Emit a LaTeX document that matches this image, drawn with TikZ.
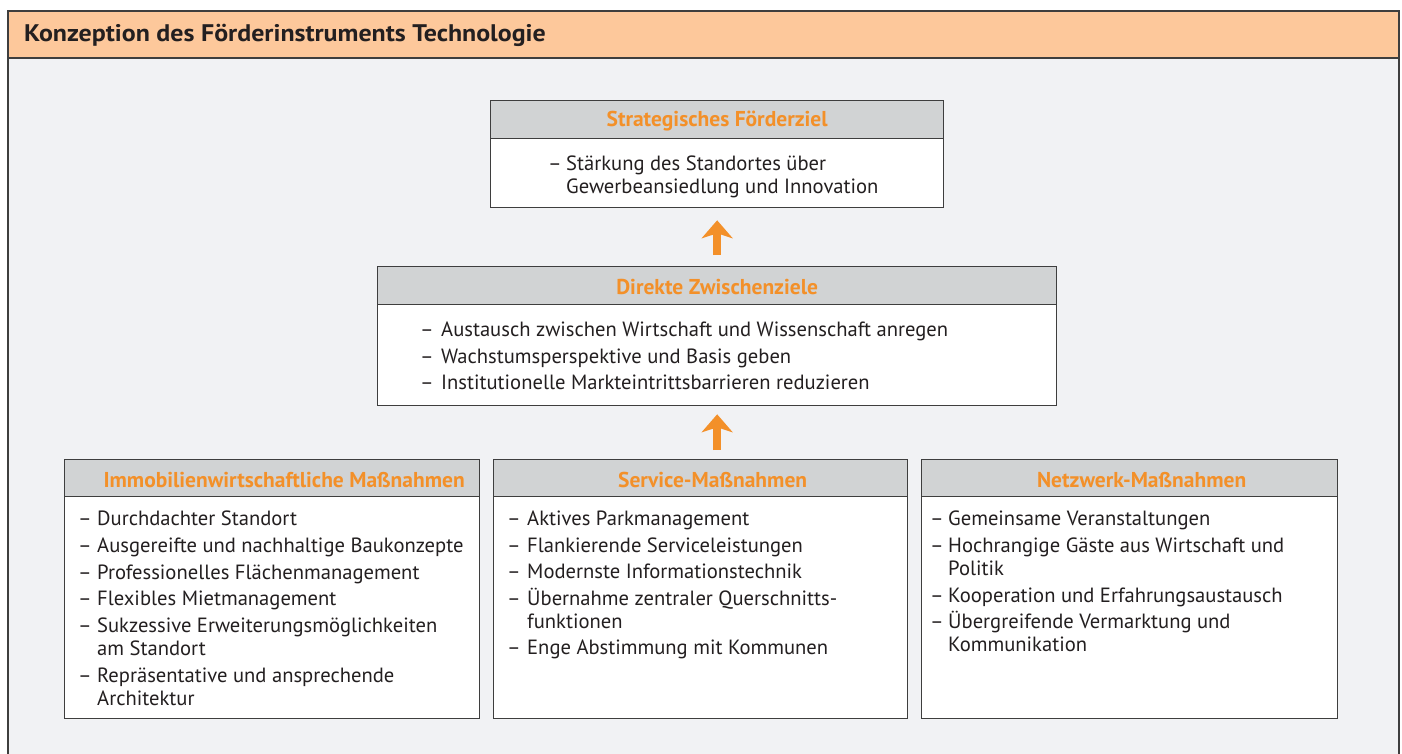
\documentclass[tikz,border=0pt]{standalone}
\usepackage{fontspec}
\setmainfont{PT Sans}
\newfontfamily\titlefont[FakeStretch=1.08]{PT Sans}
\usetikzlibrary{arrows.meta,calc}

\definecolor{peach}{HTML}{FDC89B}
\definecolor{panel}{HTML}{F1F2F4}
\definecolor{headgray}{HTML}{D1D3D4}
\definecolor{accent}{HTML}{F39029}
\definecolor{ink}{HTML}{231F20}
\definecolor{rule}{HTML}{3E3E3E}

\newcommand\bodyfont{\fontsize{20.6}{23.5}\selectfont}

\tikzset{
  frame/.style={draw=rule, line width=1.3pt},
  headbox/.style={frame, fill=headgray, anchor=north west, inner sep=0pt},
  bodybox/.style={frame, fill=white, anchor=north west, inner sep=0pt},
  headlabel/.style={inner sep=0pt, text=accent, font=\fontsize{21.5}{24}\selectfont\bfseries},
  itemtext/.style={anchor=base west, inner sep=0pt, text=ink, font=\bodyfont},
  dashmark/.style={anchor=base west, inner sep=0pt, text=ink, font=\bodyfont},
  uparrow/.style={draw=accent, line width=7.5pt,
    -{Stealth[length=18pt,width=31pt,inset=5pt]}},
}

% one list entry: name, dash x, text x, baseline y, text
\newcommand\listentry[5]{%
  \node[dashmark] (#1-d) at (#2,#4) {–};
  \node[itemtext] (#1) at (#3,#4) {#5};
}
% a list entry that runs over two lines: name, dash x, text x, baseline y, line 1, line 2
\newcommand\listentrytwo[6]{%
  \listentry{#1}{#2}{#3}{#4}{#5}
  \node[itemtext] (#1-2) at (#3,#4+23.5) {#6};
}

\begin{document}
\begin{tikzpicture}[x=1pt,y=-1pt]
\useasboundingbox (0,0) rectangle (1402,753);
\fill[white] (0,0) rectangle (1402,753);

% outer panel with its title band
\begin{scope}
  \clip (0,0) rectangle (1402,753);
  \draw[frame, fill=panel] (8,11) rectangle (1399,800);
\end{scope}
\draw[frame, fill=peach] (8,11) rectangle (1399,58);
\node[anchor=base west, inner sep=0pt, text=ink,
      font=\fontsize{24}{27}\titlefont\bfseries] (title) at (24,41)
  {Konzeption des Förderinstruments Technologie};

% strategic goal
\node[headbox, minimum width=453pt, minimum height=38pt] (sh) at (490,100) {};
\node[bodybox, minimum width=453pt, minimum height=69pt] (sb) at (490,138) {};
\node[headlabel] (sh-t) at ([yshift=-1.5pt]sh.center) {Strategisches Förderziel};
\listentrytwo{s1}{548}{566}{170}{Stärkung des Standortes über}{Gewerbeansiedlung und Innovation}

% intermediate goals
\node[headbox, minimum width=679pt, minimum height=38pt] (zh) at (377,266) {};
\node[bodybox, minimum width=679pt, minimum height=101pt] (zb) at (377,304) {};
\node[headlabel] (zh-t) at ([yshift=-1.5pt]zh.center) {Direkte Zwischenziele};
\listentry{z1}{420}{441}{336}{Austausch zwischen Wirtschaft und Wissenschaft anregen}
\listentry{z2}{420}{441}{363}{Wachstumsperspektive und Basis geben}
\listentry{z3}{420}{441}{389}{Institutionelle Markteintrittsbarrieren reduzieren}

% real-estate measures
\node[headbox, minimum width=415pt, minimum height=37pt] (ah) at (64,459) {};
\node[bodybox, minimum width=415pt, minimum height=222pt] (ab) at (64,496) {};
\node[headlabel] (ah-t) at ([xshift=12pt,yshift=-1.5pt]ah.center) {Immobilienwirtschaftliche Maßnahmen};
\listentry{a1}{78}{97}{525}{Durchdachter Standort}
\listentry{a2}{78}{97}{552}{Ausgereifte und nachhaltige Baukonzepte}
\listentry{a3}{78}{97}{579}{Professionelles Flächenmanagement}
\listentry{a4}{78}{97}{605}{Flexibles Mietmanagement}
\listentrytwo{a5}{78}{97}{632}{Sukzessive Erweiterungsmöglichkeiten}{am Standort}
\listentrytwo{a6}{78}{97}{682}{Repräsentative und ansprechende}{Architektur}

% service measures
\node[headbox, minimum width=414pt, minimum height=37pt] (bh) at (493,459) {};
\node[bodybox, minimum width=414pt, minimum height=222pt] (bb) at (493,496) {};
\node[headlabel] (bh-t) at ([xshift=12pt,yshift=-1.5pt]bh.center) {Service-Maßnahmen};
\listentry{b1}{507}{527}{525}{Aktives Parkmanagement}
\listentry{b2}{507}{527}{552}{Flankierende Serviceleistungen}
\listentry{b3}{507}{527}{578}{Modernste Informationstechnik}
\listentrytwo{b4}{507}{527}{605}{Übernahme zentraler Querschnitts-}{funktionen}
\listentry{b5}{507}{527}{654}{Enge Abstimmung mit Kommunen}

% network measures
\node[headbox, minimum width=416pt, minimum height=37pt] (ch) at (921,459) {};
\node[bodybox, minimum width=416pt, minimum height=222pt] (cb) at (921,496) {};
\node[headlabel] (ch-t) at ([xshift=12pt,yshift=-1.5pt]ch.center) {Netzwerk-Maßnahmen};
\listentry{c1}{930}{948}{525}{Gemeinsame Veranstaltungen}
\listentrytwo{c2}{930}{948}{552}{Hochrangige Gäste aus Wirtschaft und}{Politik}
\listentry{c3}{930}{948}{602}{Kooperation und Erfahrungsaustausch}
\listentrytwo{c4}{930}{948}{628}{Übergreifende Vermarktung und}{Kommunikation}

% upward arrows
\draw[uparrow, shorten <=11pt, shorten >=12pt] (zh.north) -- (sb.south);
\draw[uparrow, shorten <=9pt, shorten >=8pt] (zb.south |- bh.north) -- (zb.south);
\end{tikzpicture}
\end{document}
